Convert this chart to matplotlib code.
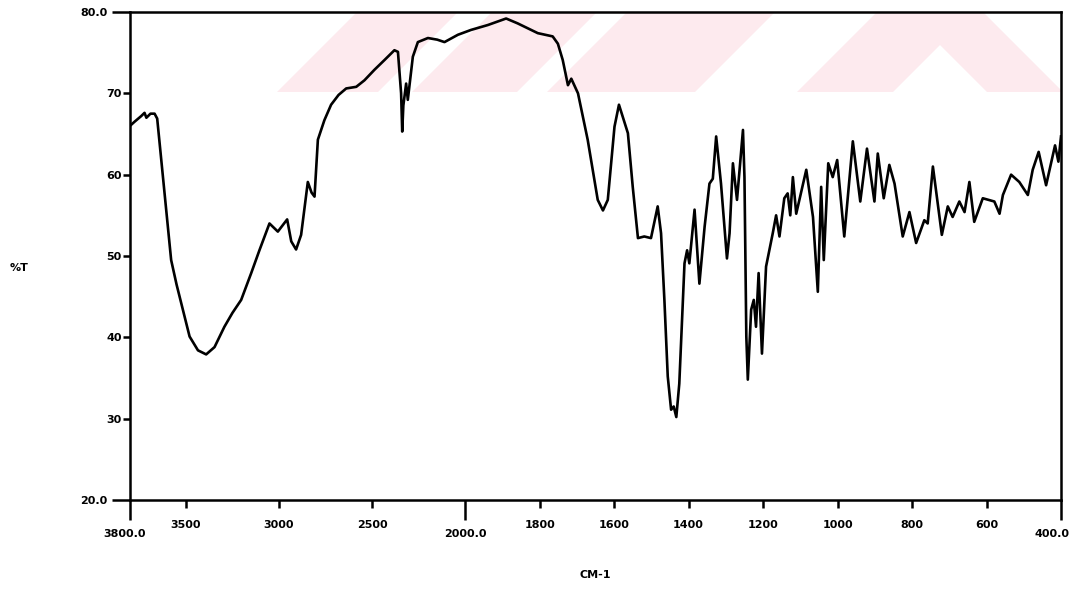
import matplotlib
matplotlib.use("Agg")
import matplotlib.pyplot as plt
from matplotlib.patches import Polygon
from matplotlib.transforms import ScaledTranslation
import numpy as np

# IR spectrum (wavenumber in cm-1, %T)
wavenumber = [3800, 3776, 3740, 3722, 3712, 3690, 3668, 3654, 3623, 3597, 3579, 3550,
              3525, 3480, 3435, 3391, 3346, 3293, 3250, 3203, 3149, 3105, 3051, 3006,
              2956, 2934, 2908, 2881, 2845, 2825, 2809, 2791, 2756, 2720, 2680, 2639,
              2585, 2541, 2487, 2433, 2380, 2361, 2344, 2338, 2332, 2326, 2317, 2308,
              2281, 2254, 2200, 2150, 2111, 2039, 1984, 1939, 1890, 1859, 1805, 1765,
              1751, 1738, 1724, 1715, 1697, 1671, 1644, 1630, 1617, 1599, 1587, 1563,
              1550, 1536, 1519, 1501, 1483, 1474, 1465, 1456, 1447, 1440, 1433, 1425,
              1411, 1404, 1398, 1384, 1371, 1357, 1344, 1335, 1326, 1313, 1297, 1290,
              1281, 1270, 1254, 1250, 1245, 1241, 1232, 1225, 1219, 1212, 1203, 1192,
              1174, 1165, 1156, 1143, 1134, 1127, 1120, 1111, 1084, 1066, 1053, 1044,
              1037, 1025, 1013, 1001, 982, 959, 939, 921, 901, 892, 876, 861,
              847, 825, 807, 789, 767, 758, 744, 731, 720, 704, 691, 673,
              659, 646, 633, 610, 579, 565, 556, 534, 512, 489, 476, 460,
              440, 416, 407, 400]
transmittance = [66.0, 66.5, 67.2, 67.6, 67.0, 67.5, 67.5, 66.9, 59.7, 53.6, 49.5, 46.5,
                 44.2, 40.1, 38.4, 37.9, 38.8, 41.3, 43.0, 44.6, 47.9, 50.7, 54.0, 53.0,
                 54.5, 51.8, 50.8, 52.6, 59.1, 57.8, 57.3, 64.3, 66.7, 68.6, 69.8, 70.6,
                 70.8, 71.6, 72.9, 74.1, 75.3, 75.1, 70.0, 65.3, 68.5, 69.6, 71.2, 69.2,
                 74.5, 76.3, 76.8, 76.6, 76.3, 77.2, 77.8, 78.4, 79.2, 78.6, 77.4, 77.0,
                 76.1, 74.1, 71.0, 71.8, 70.0, 64.3, 56.9, 55.6, 56.9, 65.9, 68.6, 65.1,
                 58.5, 52.2, 52.4, 52.2, 56.1, 52.8, 44.6, 35.2, 31.1, 31.5, 30.2, 34.3,
                 49.1, 50.7, 49.1, 55.7, 46.6, 53.6, 58.9, 59.5, 64.7, 58.9, 49.7, 52.8,
                 61.4, 56.9, 65.5, 59.7, 40.1, 34.8, 43.4, 44.6, 41.3, 47.9, 38.0, 48.7,
                 52.8, 55.0, 52.4, 57.1, 57.7, 55.0, 59.7, 55.2, 60.6, 54.8, 45.6, 58.5,
                 49.5, 61.4, 59.7, 61.8, 52.4, 64.1, 56.7, 63.2, 56.7, 62.6, 57.1, 61.2,
                 58.9, 52.4, 55.4, 51.6, 54.4, 54.0, 61.0, 56.5, 52.6, 56.1, 54.8, 56.7,
                 55.4, 59.1, 54.2, 57.1, 56.7, 55.2, 57.5, 60.0, 59.1, 57.5, 60.6, 62.8,
                 58.7, 63.6, 61.6, 64.7]

x_major = [3500, 3000, 2500, 1800, 1600, 1400, 1200, 1000, 800, 600]
x_major_labels = ['3500', '3000', '2500', '1800', '1600', '1400', '1200', '1000', '800', '600']
x_end = [3800, 2000, 400]
x_end_labels = ['3800.0', '2000.0', '400.0']
y_major = [30, 40, 50, 60, 70]
y_major_labels = ['30', '40', '50', '60', '70']
y_end = [20, 80]
y_end_labels = ['20.0', '80.0']


# spectrometer chart: 4000-2000 cm-1 is drawn at half the scale of 2000-400
def fwd(x):
    x = np.asarray(x, dtype=float)
    return np.where(x > 2000, 2000 + (x - 2000) / 2.0, x)


def inv(u):
    u = np.asarray(u, dtype=float)
    return np.where(u > 2000, 2000 + (u - 2000) * 2.0, u)


W, H = 1076, 589
fig = plt.figure(figsize=(W / 100, H / 100), dpi=100)
ax = fig.add_axes([130 / W, 1 - 500 / H, 931 / W, 488 / H])

# faint pink watermark band along the top of the scan (pixel corners)
pink = '#fdeaee'
yb, yt = 1 - 92 / H, 1 - 12 / H
for a, b in [(277, 378), (412, 517), (547, 695), (797, 893)]:
    pts = [(a / W, yb), (b / W, yb), ((b + 80) / W, yt), ((a + 80) / W, yt)]
    ax.add_patch(Polygon(pts, closed=True, transform=fig.transFigure,
                         facecolor=pink, edgecolor='none', zorder=0.5))
for a, b in [(987, 1063)]:
    pts = [(a / W, yb), (b / W, yb), ((b - 80) / W, yt), ((a - 80) / W, yt)]
    ax.add_patch(Polygon(pts, closed=True, transform=fig.transFigure,
                         facecolor=pink, edgecolor='none', zorder=0.5))

ax.plot(wavenumber, transmittance, color='black', lw=1.9, solid_joinstyle='round', zorder=3)

ax.set_xscale('function', functions=(fwd, inv))
ax.set_xlim(3800, 400)
ax.set_ylim(20, 80)

ax.set_xticks(x_major)
ax.set_xticklabels(x_major_labels)
ax.set_xticks(x_end, minor=True)
ax.set_xticklabels(x_end_labels, minor=True)
ax.set_yticks(y_major)
ax.set_yticklabels(y_major_labels)
ax.set_yticks(y_end, minor=True)
ax.set_yticklabels(y_end_labels, minor=True)

for s in ax.spines.values():
    s.set_linewidth(1.8)
    s.set_zorder(4)

ax.tick_params(axis='x', which='major', direction='out', length=6, width=1.8,
               pad=8.5, labelsize=8)
ax.tick_params(axis='x', which='minor', direction='out', length=14.5, width=1.8,
               pad=6.5, labelsize=8)
ax.tick_params(axis='y', which='major', direction='out', length=5, width=1.8,
               pad=1, labelsize=8)
ax.tick_params(axis='y', which='minor', direction='out', length=13, width=1.8,
               pad=3, labelsize=8)
for lab in ax.get_xticklabels(which='both') + ax.get_yticklabels(which='both'):
    lab.set_fontweight('bold')

# end labels sit a little off-centre on the scan
minor_labels = ax.get_xticklabels(minor=True)
minor_labels[0].set_transform(minor_labels[0].get_transform()
                              + ScaledTranslation(-5 / 100, 0, fig.dpi_scale_trans))
minor_labels[2].set_transform(minor_labels[2].get_transform()
                              + ScaledTranslation(-9 / 100, 0, fig.dpi_scale_trans))

fig.text(19 / W, 1 - 268 / H, '%T', ha='center', va='center', fontsize=8, fontweight='bold')
fig.text(595 / W, 1 - 575 / H, 'CM-1', ha='center', va='center', fontsize=8, fontweight='bold')

fig.savefig('out.png', dpi=100)
